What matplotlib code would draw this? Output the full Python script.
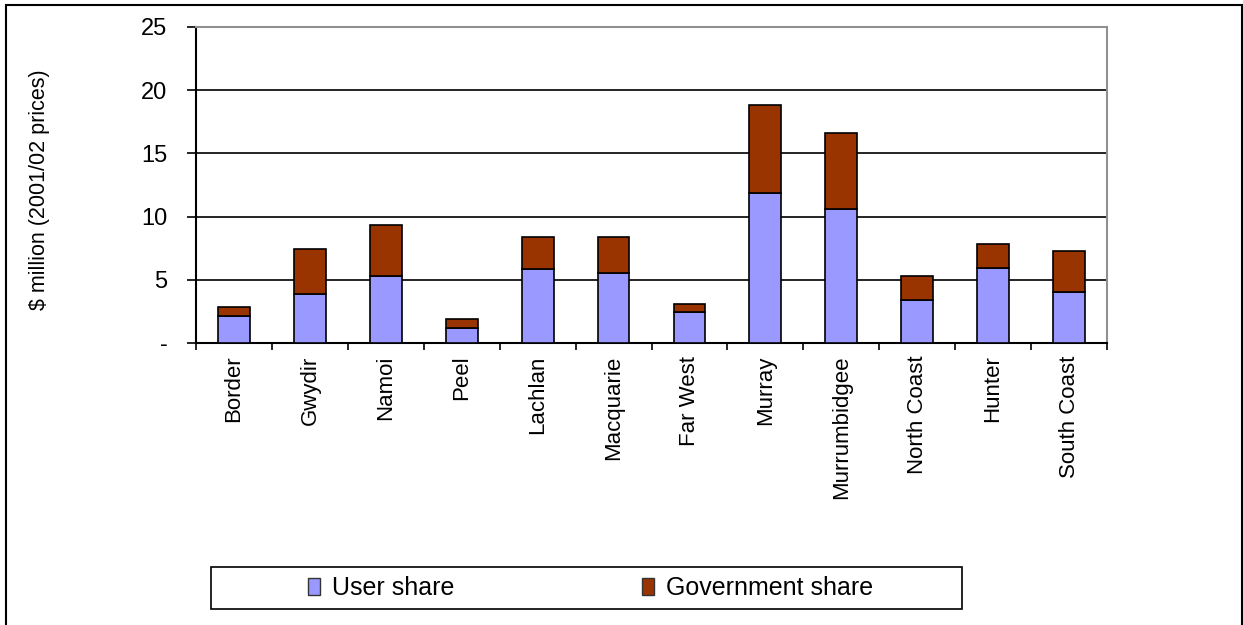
import matplotlib
matplotlib.use("Agg")
import matplotlib.pyplot as plt
from matplotlib.patches import Rectangle
import numpy as np

plt.rcParams['font.family'] = ['Liberation Sans', 'DejaVu Sans']

categories = ["Border", "Gwydir", "Namoi", "Peel", "Lachlan", "Macquarie",
              "Far West", "Murray", "Murrumbidgee", "North Coast", "Hunter", "South Coast"]
user_share = [2.17, 3.91, 5.31, 1.19, 5.82, 5.50, 2.46, 11.84, 10.57, 3.44, 5.97, 4.04]
total = [2.83, 7.40, 9.30, 1.88, 8.38, 8.35, 3.12, 18.81, 16.59, 5.34, 7.87, 7.29]
gov_share = [t - u for t, u in zip(total, user_share)]
yticks = [0, 5, 10, 15, 20, 25]
ytick_labels = ["-", "5", "10", "15", "20", "25"]

W, H = 1243, 625
fig = plt.figure(figsize=(W/100, H/100), dpi=100)
ax = fig.add_axes([196/W, 1-343/H, (1107-196)/W, (343-27)/H])

x = np.arange(len(categories))
w = 0.42
ax.bar(x, user_share, w, color="#9999ff", edgecolor="black", linewidth=1.2,
       label="User share", zorder=3)
ax.bar(x, gov_share, w, bottom=user_share, color="#993300", edgecolor="black",
       linewidth=1.2, label="Government share", zorder=3)

ax.set_xlim(-0.5, len(categories) - 0.5)
ax.set_ylim(0, 25)
ax.set_yticks(yticks)
ax.set_yticklabels(ytick_labels, fontsize=17)
for yv in yticks[1:-1]:
    ax.axhline(yv, color="black", linewidth=1.2, zorder=1)

ax.set_xticks(x)
ax.set_xticklabels(categories, rotation=90, fontsize=16)
ax.tick_params(axis='x', length=0, pad=9)
ax.set_xticks(np.arange(-0.5, len(categories)), minor=True)
ax.tick_params(axis='x', which='minor', length=5, width=1.2, direction='out')
ax.tick_params(axis='y', length=6.5, width=1.2, direction='out', pad=14)

ax.set_ylabel("$ million (2001/02 prices)", fontsize=15.5)
ax.yaxis.set_label_coords((50-196)/911, 0.484)

for s in ["left", "bottom"]:
    ax.spines[s].set_color("black")
    ax.spines[s].set_linewidth(1.5)
for s in ["top", "right"]:
    ax.spines[s].set_color("#909090")
    ax.spines[s].set_linewidth(1.5)

leg = fig.legend(loc="center", bbox_to_anchor=(590.5/W, 1-588/H),
                 ncol=2, fontsize=18, frameon=False,
                 handlelength=0.5, handleheight=0.7,
                 handletextpad=0.48, columnspacing=7.5)
for h in leg.legend_handles:
    h.set_edgecolor("#333333")
    h.set_linewidth(1.0)

fig.patches.append(Rectangle((211/W, 1-609/H), (962-211)/W, 42/H, transform=fig.transFigure,
                             fill=False, edgecolor="black", linewidth=1.2))
fig.patches.append(Rectangle((6/W, -0.05), (1242-6)/W, 1.05-5/H, transform=fig.transFigure,
                             fill=False, edgecolor="black", linewidth=1.5))

fig.savefig("out.png", dpi=100)
